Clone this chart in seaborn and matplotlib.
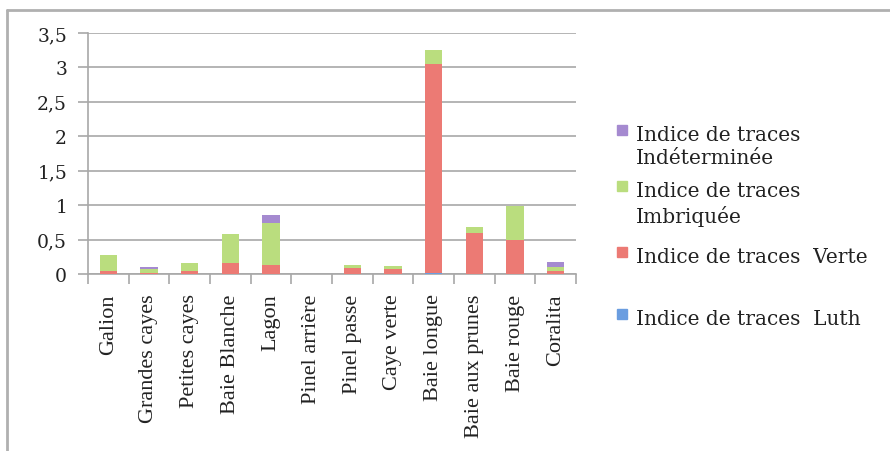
import matplotlib
matplotlib.use("Agg")
import matplotlib.pyplot as plt
import matplotlib.patches as mpatches
import matplotlib.lines as mlines
import numpy as np
import pandas as pd
import seaborn as sns

categories = ["Galion", "Grandes cayes", "Petites cayes", "Baie Blanche", "Lagon",
              "Pinel arrière", "Pinel passe", "Caye verte", "Baie longue",
              "Baie aux prunes", "Baie rouge", "Coralita"]
luth = [0, 0, 0, 0, 0, 0, 0, 0, 0.02, 0, 0, 0]
verte = [0.05, 0.02, 0.04, 0.16, 0.13, 0, 0.08, 0.07, 3.03, 0.59, 0.50, 0.04]
imbriquee = [0.22, 0.05, 0.12, 0.42, 0.61, 0, 0.05, 0.04, 0.20, 0.09, 0.49, 0.06]
indeterminee = [0, 0.03, 0, 0, 0.12, 0, 0, 0, 0, 0, 0, 0.08]
series_labels = ["Indice de traces  Luth", "Indice de traces  Verte",
                 "Indice de traces\nImbriquée", "Indice de traces\nIndéterminée"]
y_ticks = [0, 0.5, 1, 1.5, 2, 2.5, 3, 3.5]
y_tick_labels = ["0", "0,5", "1", "1,5", "2", "2,5", "3", "3,5"]

colors = ["#6a9de0", "#ec7a74", "#badd7e", "#a58ad0"]

sns.set_theme(style="white")
plt.rcParams["font.family"] = ["Liberation Serif", "DejaVu Serif"]

df = pd.DataFrame({"site": categories, "luth": luth, "verte": verte,
                   "imbr": imbriquee, "indet": indeterminee})
df["c1"] = df["luth"]
df["c2"] = df["c1"] + df["verte"]
df["c3"] = df["c2"] + df["imbr"]
df["c4"] = df["c3"] + df["indet"]

fig = plt.figure(figsize=(8.9, 4.52), dpi=100)
ax = fig.add_axes([88 / 890, 177 / 452, 488 / 890, 241 / 452])

for col, colr in zip(["c4", "c3", "c2", "c1"], colors[::-1]):
    sns.barplot(data=df, x="site", y=col, color=colr, width=0.42,
                saturation=1, edgecolor="none", linewidth=0, ax=ax, zorder=3)

ax.set_xlim(-0.5, len(categories) - 0.5)
ax.set_ylim(0, 3.5)
ax.set_yticks(y_ticks)
ax.set_yticklabels(y_tick_labels, fontsize=13.5, family=["DejaVu Serif"])
ax.set_xlabel("")
ax.set_ylabel("")
ax.grid(axis="y", color="#a8a8a8", linewidth=1.2, zorder=0)
ax.set_axisbelow(True)

for s in ["top", "right"]:
    ax.spines[s].set_visible(False)
for s in ["left", "bottom"]:
    ax.spines[s].set_color("#a8a8a8")
    ax.spines[s].set_linewidth(1.2)

ax.tick_params(axis="y", which="major", direction="out", length=7, width=1.2,
               color="#a8a8a8", left=True, pad=8, labelcolor="#222222")
ax.set_xticks(range(len(categories)))
ax.set_xticklabels(categories, rotation=90, fontsize=16, color="#222222")
ax.tick_params(axis="x", which="major", length=0, pad=14)
ax.set_xticks(np.arange(-0.5, len(categories), 1.0), minor=True)
ax.tick_params(axis="x", which="minor", direction="out", length=7, width=1.2,
               color="#a8a8a8", bottom=True)

# legend (manual layout, top to bottom)
leg_items = [
    (colors[3], series_labels[3], 131),
    (colors[2], series_labels[2], 187),
    (colors[1], series_labels[1], 253),
    (colors[0], series_labels[0], 315),
]
for colr, lab, ypix in leg_items:
    fig.add_artist(mpatches.Rectangle((617 / 890, 1 - (ypix + 5) / 452),
                                      10 / 890, 10 / 452, color=colr,
                                      transform=fig.transFigure))
    fig.text(636 / 890, 1 - (ypix - 5) / 452, lab, fontsize=14.5,
             family=["DejaVu Serif"], va="top", ha="left", color="#222222",
             linespacing=1.3)

# outer frame lines
fig.add_artist(mlines.Line2D([7 / 890, 1], [1 - 11 / 452, 1 - 11 / 452],
                             color="#b0b0b0", linewidth=2, transform=fig.transFigure))
fig.add_artist(mlines.Line2D([7 / 890, 7 / 890], [0, 1 - 11 / 452],
                             color="#b0b0b0", linewidth=2, transform=fig.transFigure))

fig.savefig("out.png", dpi=100)
